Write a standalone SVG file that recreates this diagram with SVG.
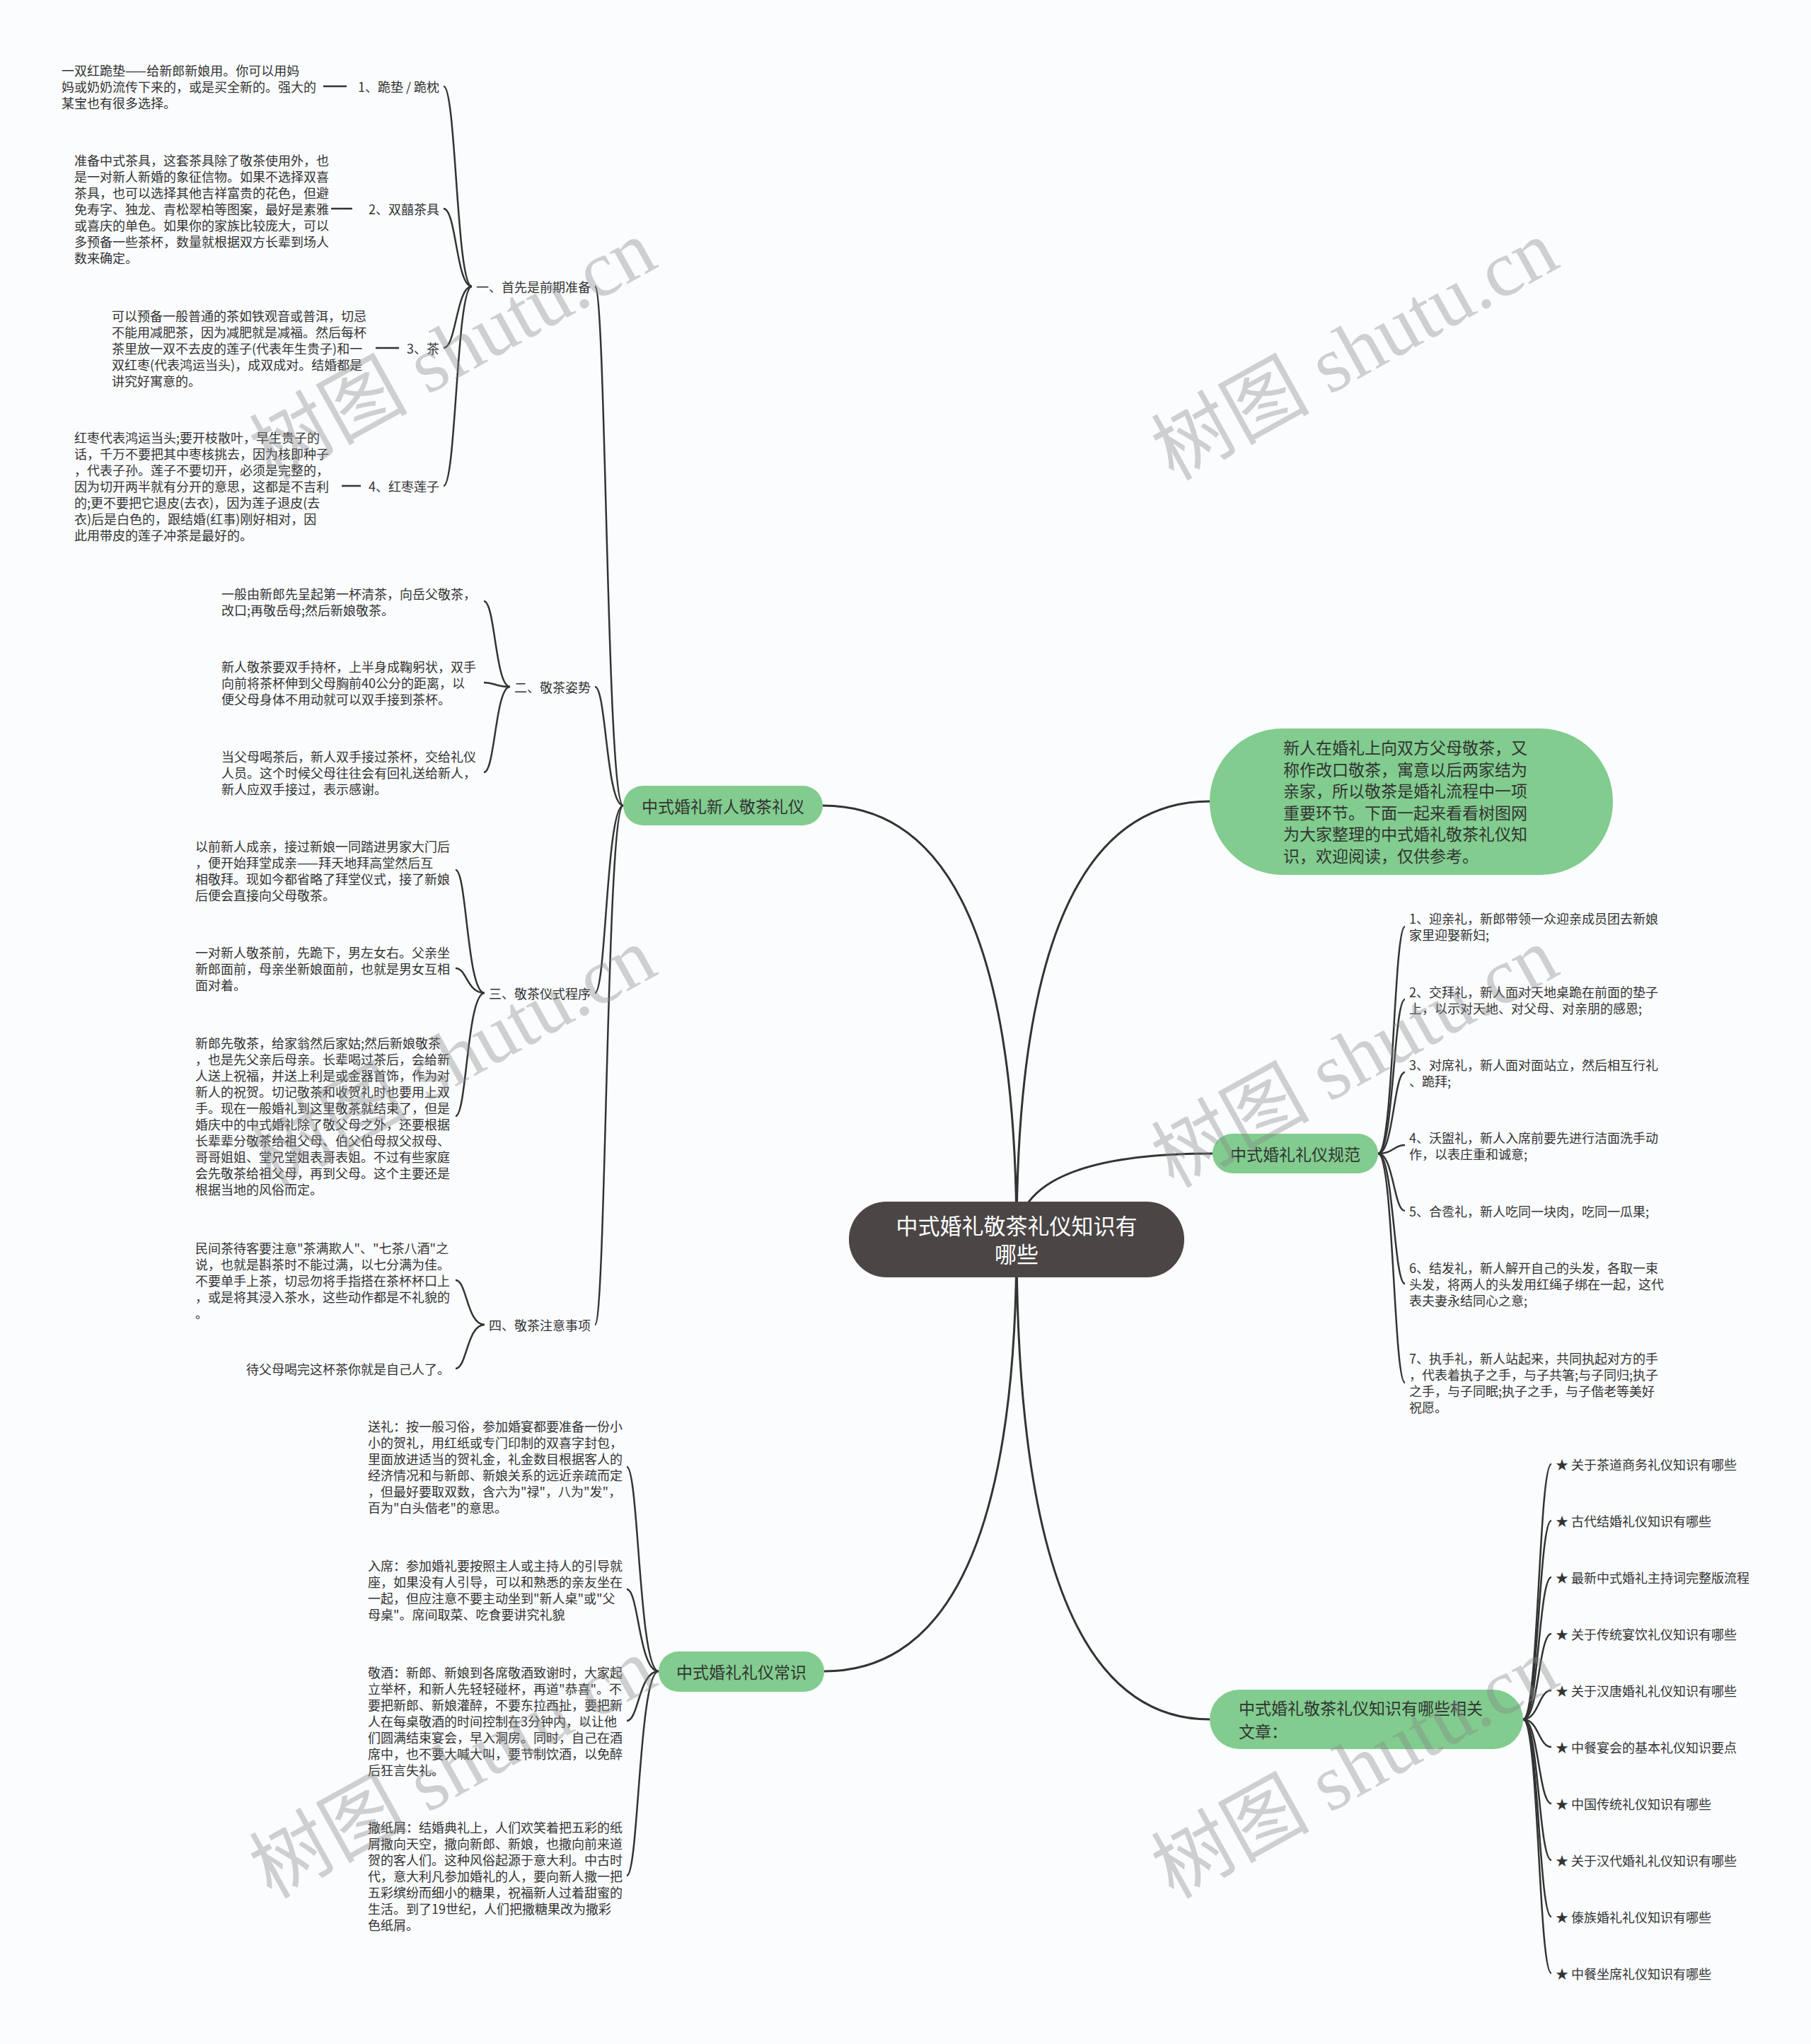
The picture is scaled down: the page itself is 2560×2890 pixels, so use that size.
<svg xmlns="http://www.w3.org/2000/svg" width="2560" height="2890" viewBox="0 0 2560 2890">
<style>
.t{font-family:"Noto Sans CJK SC","Noto Sans",sans-serif;font-size:18px;fill:#333;dominant-baseline:central}
.b{font-family:"Noto Sans CJK SC","Noto Sans",sans-serif;font-size:23px;fill:#333;dominant-baseline:central}
.c{font-family:"Noto Sans CJK SC","Noto Sans",sans-serif;font-size:31px;fill:#fff;dominant-baseline:central;text-anchor:middle}
.l{fill:none;stroke:#333;stroke-width:2.5}
.m{fill:none;stroke:#333;stroke-width:3}
.g{fill:#81cc8e}
.w{font-family:"Liberation Serif","Noto Sans CJK SC",serif;font-size:112px;fill:#888;opacity:0.38;text-anchor:middle;dominant-baseline:central}
</style>
<rect width="2560" height="2890" fill="#fafcfd"/>
<g id="connectors">
<path class="m" d="M1437,1752 Q1437,1139 1163,1139"/>
<path class="m" d="M1437,1752 Q1437,1133 1710,1133"/>
<path class="m" d="M1437,1752 Q1437,1631 1714,1631"/>
<path class="m" d="M1437,1752 Q1437,2363 1165,2363"/>
<path class="m" d="M1437,1752 Q1437,2431 1710,2431"/>
<path class="l" d="M881,1139 C857,1139 857,405 841,405"/>
<path class="l" d="M881,1139 C857,1139 857,971 841,971"/>
<path class="l" d="M881,1139 C857,1139 857,1404 841,1404"/>
<path class="l" d="M881,1139 C857,1139 857,1873 841,1873"/>
<path class="l" d="M667,405 C645,405 645,122 627,122"/>
<path class="l" d="M667,405 C645,405 645,295 627,295"/>
<path class="l" d="M667,405 C645,405 645,492 627,492"/>
<path class="l" d="M667,405 C645,405 645,687 627,687"/>
<path class="l" d="M457,122 H490 M468,295 H498 M531,492 H564 M483,687 H510"/>
<path class="l" d="M721,971 C700,971 700,850 684,850"/>
<path class="l" d="M721,971 C700,971 700,965 684,965"/>
<path class="l" d="M721,971 C700,971 700,1092 684,1092"/>
<path class="l" d="M685,1404 C660,1404 660,1230 644,1230"/>
<path class="l" d="M685,1404 C660,1404 660,1369 644,1369"/>
<path class="l" d="M685,1404 C660,1404 660,1578 644,1578"/>
<path class="l" d="M685,1873 C660,1873 660,1810 644,1810"/>
<path class="l" d="M685,1873 C660,1873 660,1935 644,1935"/>
<path class="l" d="M1948,1631 C1970,1631 1970,1310 1986,1310"/>
<path class="l" d="M1948,1631 C1970,1631 1970,1413 1986,1413"/>
<path class="l" d="M1948,1631 C1970,1631 1970,1516 1986,1516"/>
<path class="l" d="M1948,1631 C1970,1631 1970,1619 1986,1619"/>
<path class="l" d="M1948,1631 C1970,1631 1970,1712 1986,1712"/>
<path class="l" d="M1948,1631 C1970,1631 1970,1815 1986,1815"/>
<path class="l" d="M1948,1631 C1970,1631 1970,1955 1986,1955"/>
<path class="l" d="M931,2363 C903,2363 903,2074 886,2074"/>
<path class="l" d="M931,2363 C903,2363 903,2247 886,2247"/>
<path class="l" d="M931,2363 C903,2363 903,2433 886,2433"/>
<path class="l" d="M931,2363 C903,2363 903,2652 886,2652"/>
<path class="l" d="M2153,2431 C2175,2431 2175,2070 2193,2070"/>
<path class="l" d="M2153,2431 C2175,2431 2175,2150 2193,2150"/>
<path class="l" d="M2153,2431 C2175,2431 2175,2230 2193,2230"/>
<path class="l" d="M2153,2431 C2175,2431 2175,2310 2193,2310"/>
<path class="l" d="M2153,2431 C2175,2431 2175,2390 2193,2390"/>
<path class="l" d="M2153,2431 C2175,2431 2175,2470 2193,2470"/>
<path class="l" d="M2153,2431 C2175,2431 2175,2550 2193,2550"/>
<path class="l" d="M2153,2431 C2175,2431 2175,2630 2193,2630"/>
<path class="l" d="M2153,2431 C2175,2431 2175,2710 2193,2710"/>
<path class="l" d="M2153,2431 C2175,2431 2175,2790 2193,2790"/>
</g>
<g id="center"><rect x="1200" y="1699" width="474" height="107" rx="53" fill="#4b4645"/><text class="c"><tspan x="1437" y="1731">中式婚礼敬茶礼仪知识有</tspan><tspan x="1437" y="1771">哪些</tspan></text></g>
<g id="intro"><rect x="1710" y="1030" width="570" height="207" rx="103" class="g"/><text class="b"><tspan x="1814" y="1056">新人在婚礼上向双方父母敬茶，又</tspan><tspan x="1814" y="1087">称作改口敬茶，寓意以后两家结为</tspan><tspan x="1814" y="1117">亲家，所以敬茶是婚礼流程中一项</tspan><tspan x="1814" y="1148">重要环节。下面一起来看看树图网</tspan><tspan x="1814" y="1178">为大家整理的中式婚礼敬茶礼仪知</tspan><tspan x="1814" y="1209">识，欢迎阅读，仅供参考。</tspan></text></g>
<g id="n1"><rect x="881" y="1111" width="282" height="56" rx="28" class="g"/><text class="b" x="1022" y="1139" text-anchor="middle">中式婚礼新人敬茶礼仪</text></g>
<g id="n1a"><text class="t" x="835" y="405" text-anchor="end">一、首先是前期准备</text></g>
<g id="n1a1"><text class="t" x="621" y="122" text-anchor="end">1、跪垫 / 跪枕</text></g>
<g id="n1a1t"><text class="t"><tspan x="87" y="99">一双红跪垫——给新郎新娘用。你可以用妈</tspan><tspan x="87" y="122">妈或奶奶流传下来的，或是买全新的。强大的</tspan><tspan x="87" y="145">某宝也有很多选择。</tspan></text></g>
<g id="n1a2"><text class="t" x="621" y="295" text-anchor="end">2、双囍茶具</text></g>
<g id="n1a2t"><text class="t"><tspan x="105" y="226">准备中式茶具，这套茶具除了敬茶使用外，也</tspan><tspan x="105" y="249">是一对新人新婚的象征信物。如果不选择双喜</tspan><tspan x="105" y="272">茶具，也可以选择其他吉祥富贵的花色，但避</tspan><tspan x="105" y="295">免寿字、独龙、青松翠柏等图案，最好是素雅</tspan><tspan x="105" y="318">或喜庆的单色。如果你的家族比较庞大，可以</tspan><tspan x="105" y="341">多预备一些茶杯，数量就根据双方长辈到场人</tspan><tspan x="105" y="364">数来确定。</tspan></text></g>
<g id="n1a3"><text class="t" x="621" y="492" text-anchor="end">3、茶</text></g>
<g id="n1a3t"><text class="t"><tspan x="158" y="446">可以预备一般普通的茶如铁观音或普洱，切忌</tspan><tspan x="158" y="469">不能用减肥茶，因为减肥就是减福。然后每杯</tspan><tspan x="158" y="492">茶里放一双不去皮的莲子(代表年生贵子)和一</tspan><tspan x="158" y="515">双红枣(代表鸿运当头)，成双成对。结婚都是</tspan><tspan x="158" y="538">讲究好寓意的。</tspan></text></g>
<g id="n1a4"><text class="t" x="621" y="687" text-anchor="end">4、红枣莲子</text></g>
<g id="n1a4t"><text class="t"><tspan x="105" y="618">红枣代表鸿运当头;要开枝散叶，早生贵子的</tspan><tspan x="105" y="641">话，千万不要把其中枣核挑去，因为核即种子</tspan><tspan x="105" y="664">，代表子孙。莲子不要切开，必须是完整的，</tspan><tspan x="105" y="687">因为切开两半就有分开的意思，这都是不吉利</tspan><tspan x="105" y="710">的;更不要把它退皮(去衣)，因为莲子退皮(去</tspan><tspan x="105" y="733">衣)后是白色的，跟结婚(红事)刚好相对，因</tspan><tspan x="105" y="756">此用带皮的莲子冲茶是最好的。</tspan></text></g>
<g id="n1b"><text class="t" x="835" y="971" text-anchor="end">二、敬茶姿势</text></g>
<g id="n1b1"><text class="t"><tspan x="313" y="839">一般由新郎先呈起第一杯清茶，向岳父敬茶，</tspan><tspan x="313" y="862">改口;再敬岳母;然后新娘敬茶。</tspan></text></g>
<g id="n1b2"><text class="t"><tspan x="313" y="942">新人敬茶要双手持杯，上半身成鞠躬状，双手</tspan><tspan x="313" y="965">向前将茶杯伸到父母胸前40公分的距离，以</tspan><tspan x="313" y="988">便父母身体不用动就可以双手接到茶杯。</tspan></text></g>
<g id="n1b3"><text class="t"><tspan x="313" y="1069">当父母喝茶后，新人双手接过茶杯，交给礼仪</tspan><tspan x="313" y="1092">人员。这个时候父母往往会有回礼送给新人，</tspan><tspan x="313" y="1115">新人应双手接过，表示感谢。</tspan></text></g>
<g id="n1c"><text class="t" x="835" y="1404" text-anchor="end">三、敬茶仪式程序</text></g>
<g id="n1c1"><text class="t"><tspan x="276" y="1196">以前新人成亲，接过新娘一同踏进男家大门后</tspan><tspan x="276" y="1219">，便开始拜堂成亲——拜天地拜高堂然后互</tspan><tspan x="276" y="1242">相敬拜。现如今都省略了拜堂仪式，接了新娘</tspan><tspan x="276" y="1265">后便会直接向父母敬茶。</tspan></text></g>
<g id="n1c2"><text class="t"><tspan x="276" y="1346">一对新人敬茶前，先跪下，男左女右。父亲坐</tspan><tspan x="276" y="1369">新郎面前，母亲坐新娘面前，也就是男女互相</tspan><tspan x="276" y="1392">面对着。</tspan></text></g>
<g id="n1c3"><text class="t"><tspan x="276" y="1474">新郎先敬茶，给家翁然后家姑;然后新娘敬茶</tspan><tspan x="276" y="1497">，也是先父亲后母亲。长辈喝过茶后，会给新</tspan><tspan x="276" y="1520">人送上祝福，并送上利是或金器首饰，作为对</tspan><tspan x="276" y="1543">新人的祝贺。切记敬茶和收贺礼时也要用上双</tspan><tspan x="276" y="1566">手。现在一般婚礼到这里敬茶就结束了，但是</tspan><tspan x="276" y="1589">婚庆中的中式婚礼除了敬父母之外，还要根据</tspan><tspan x="276" y="1612">长辈辈分敬茶给祖父母、伯父伯母叔父叔母、</tspan><tspan x="276" y="1635">哥哥姐姐、堂兄堂姐表哥表姐。不过有些家庭</tspan><tspan x="276" y="1658">会先敬茶给祖父母，再到父母。这个主要还是</tspan><tspan x="276" y="1681">根据当地的风俗而定。</tspan></text></g>
<g id="n1d"><text class="t" x="835" y="1873" text-anchor="end">四、敬茶注意事项</text></g>
<g id="n1d1"><text class="t"><tspan x="276" y="1764">民间茶待客要注意"茶满欺人"、"七茶八酒"之</tspan><tspan x="276" y="1787">说，也就是斟茶时不能过满，以七分满为佳。</tspan><tspan x="276" y="1810">不要单手上茶，切忌勿将手指搭在茶杯杯口上</tspan><tspan x="276" y="1833">，或是将其浸入茶水，这些动作都是不礼貌的</tspan><tspan x="276" y="1856">。</tspan></text></g>
<g id="n1d2"><text class="t" x="636" y="1935" text-anchor="end">待父母喝完这杯茶你就是自己人了。</text></g>
<g id="n2"><rect x="1714" y="1603" width="234" height="56" rx="28" class="g"/><text class="b" x="1831" y="1631" text-anchor="middle">中式婚礼礼仪规范</text></g>
<g id="n2a"><text class="t"><tspan x="1992" y="1298">1、迎亲礼，新郎带领一众迎亲成员团去新娘</tspan><tspan x="1992" y="1321">家里迎娶新妇;</tspan></text></g>
<g id="n2b"><text class="t"><tspan x="1992" y="1402">2、交拜礼，新人面对天地桌跪在前面的垫子</tspan><tspan x="1992" y="1425">上，以示对天地、对父母、对亲朋的感恩;</tspan></text></g>
<g id="n2c"><text class="t"><tspan x="1992" y="1505">3、对席礼，新人面对面站立，然后相互行礼</tspan><tspan x="1992" y="1528">、跪拜;</tspan></text></g>
<g id="n2d"><text class="t"><tspan x="1992" y="1608">4、沃盥礼，新人入席前要先进行洁面洗手动</tspan><tspan x="1992" y="1631">作，以表庄重和诚意;</tspan></text></g>
<g id="n2e"><text class="t" x="1992" y="1712">5、合卺礼，新人吃同一块肉，吃同一瓜果;</text></g>
<g id="n2f"><text class="t"><tspan x="1992" y="1792">6、结发礼，新人解开自己的头发，各取一束</tspan><tspan x="1992" y="1815">头发，将两人的头发用红绳子绑在一起，这代</tspan><tspan x="1992" y="1838">表夫妻永结同心之意;</tspan></text></g>
<g id="n2g"><text class="t"><tspan x="1992" y="1920">7、执手礼，新人站起来，共同执起对方的手</tspan><tspan x="1992" y="1943">，代表着执子之手，与子共箸;与子同归;执子</tspan><tspan x="1992" y="1966">之手，与子同眠;执子之手，与子偕老等美好</tspan><tspan x="1992" y="1989">祝愿。</tspan></text></g>
<g id="n3"><rect x="931" y="2335" width="234" height="57" rx="28" class="g"/><text class="b" x="1048" y="2363" text-anchor="middle">中式婚礼礼仪常识</text></g>
<g id="n3a"><text class="t"><tspan x="520" y="2016">送礼：按一般习俗，参加婚宴都要准备一份小</tspan><tspan x="520" y="2039">小的贺礼，用红纸或专门印制的双喜字封包，</tspan><tspan x="520" y="2062">里面放进适当的贺礼金，礼金数目根据客人的</tspan><tspan x="520" y="2085">经济情况和与新郎、新娘关系的远近亲疏而定</tspan><tspan x="520" y="2108">，但最好要取双数，含六为"禄"，八为"发"，</tspan><tspan x="520" y="2131">百为"白头偕老"的意思。</tspan></text></g>
<g id="n3b"><text class="t"><tspan x="520" y="2213">入席：参加婚礼要按照主人或主持人的引导就</tspan><tspan x="520" y="2236">座，如果没有人引导，可以和熟悉的亲友坐在</tspan><tspan x="520" y="2259">一起，但应注意不要主动坐到"新人桌"或"父</tspan><tspan x="520" y="2282">母桌"。席间取菜、吃食要讲究礼貌</tspan></text></g>
<g id="n3c"><text class="t"><tspan x="520" y="2364">敬酒：新郎、新娘到各席敬酒致谢时，大家起</tspan><tspan x="520" y="2387">立举杯，和新人先轻轻碰杯，再道"恭喜"。不</tspan><tspan x="520" y="2410">要把新郎、新娘灌醉，不要东拉西扯，要把新</tspan><tspan x="520" y="2433">人在每桌敬酒的时间控制在3分钟内，以让他</tspan><tspan x="520" y="2456">们圆满结束宴会，早入洞房。同时，自己在酒</tspan><tspan x="520" y="2479">席中，也不要大喊大叫，要节制饮酒，以免醉</tspan><tspan x="520" y="2502">后狂言失礼。</tspan></text></g>
<g id="n3d"><text class="t"><tspan x="520" y="2583">撒纸屑：结婚典礼上，人们欢笑着把五彩的纸</tspan><tspan x="520" y="2606">屑撒向天空，撒向新郎、新娘，也撒向前来道</tspan><tspan x="520" y="2629">贺的客人们。这种风俗起源于意大利。中古时</tspan><tspan x="520" y="2652">代，意大利凡参加婚礼的人，要向新人撒一把</tspan><tspan x="520" y="2675">五彩缤纷而细小的糖果，祝福新人过着甜蜜的</tspan><tspan x="520" y="2698">生活。到了19世纪，人们把撒糖果改为撒彩</tspan><tspan x="520" y="2721">色纸屑。</tspan></text></g>
<g id="n4"><rect x="1710" y="2389" width="443" height="84" rx="42" class="g"/><text class="b"><tspan x="1751" y="2414">中式婚礼敬茶礼仪知识有哪些相关</tspan><tspan x="1751" y="2447">文章：</tspan></text></g>
<g id="n4a"><text class="t" x="2199" y="2070">★ 关于茶道商务礼仪知识有哪些</text></g>
<g id="n4b"><text class="t" x="2199" y="2150">★ 古代结婚礼仪知识有哪些</text></g>
<g id="n4c"><text class="t" x="2199" y="2230">★ 最新中式婚礼主持词完整版流程</text></g>
<g id="n4d"><text class="t" x="2199" y="2310">★ 关于传统宴饮礼仪知识有哪些</text></g>
<g id="n4e"><text class="t" x="2199" y="2390">★ 关于汉唐婚礼礼仪知识有哪些</text></g>
<g id="n4f"><text class="t" x="2199" y="2470">★ 中餐宴会的基本礼仪知识要点</text></g>
<g id="n4g"><text class="t" x="2199" y="2550">★ 中国传统礼仪知识有哪些</text></g>
<g id="n4h"><text class="t" x="2199" y="2630">★ 关于汉代婚礼礼仪知识有哪些</text></g>
<g id="n4i"><text class="t" x="2199" y="2710">★ 傣族婚礼礼仪知识有哪些</text></g>
<g id="n4j"><text class="t" x="2199" y="2790">★ 中餐坐席礼仪知识有哪些</text></g>
<g id="watermark">
<text class="w" transform="translate(640,495) rotate(-29)">树图 shutu.cn</text>
<text class="w" transform="translate(1915,495) rotate(-29)">树图 shutu.cn</text>
<text class="w" transform="translate(640,1495) rotate(-29)">树图 shutu.cn</text>
<text class="w" transform="translate(1915,1495) rotate(-29)">树图 shutu.cn</text>
<text class="w" transform="translate(640,2500) rotate(-29)">树图 shutu.cn</text>
<text class="w" transform="translate(1915,2500) rotate(-29)">树图 shutu.cn</text>
</g>
</svg>
